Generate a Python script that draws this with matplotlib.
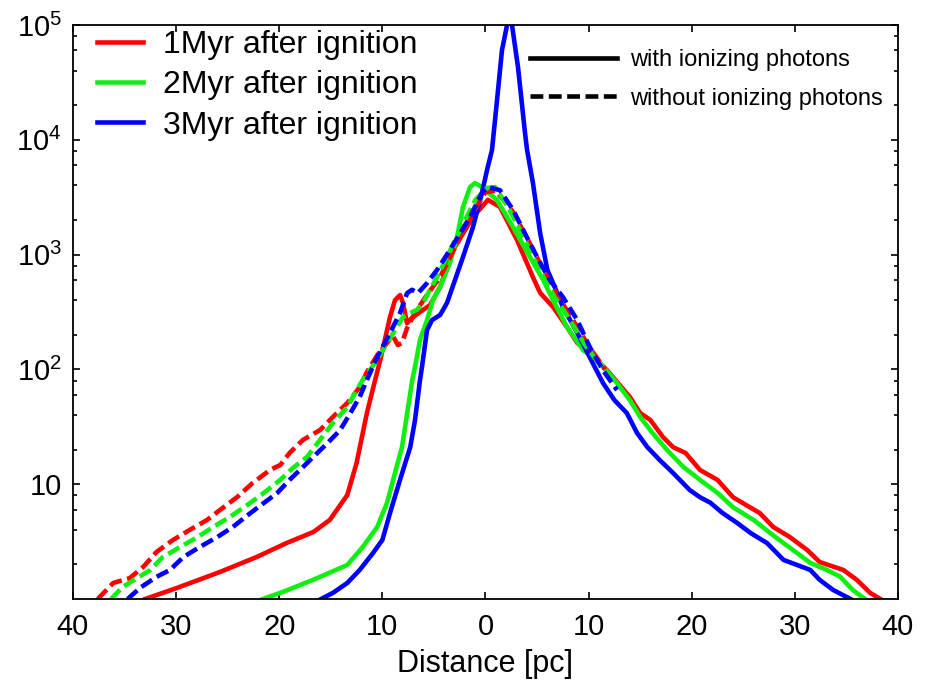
import matplotlib
matplotlib.use("Agg")
import matplotlib.pyplot as plt
from matplotlib.ticker import FixedLocator, FixedFormatter, LogLocator, NullFormatter
from matplotlib.lines import Line2D

plt.rcParams["font.family"] = ["Liberation Sans", "DejaVu Sans"]
plt.rcParams["mathtext.fontset"] = "custom"
plt.rcParams["mathtext.rm"] = "Liberation Sans"

# 1 Myr, with ionizing photons
x_1myr = [-33.0, -29.9, -25.75, -22.2, -19.3, -16.7, -15.1, -13.4, -12.5, -11.5, -10.7,
          -10.2, -9.26, -8.78, -8.29, -8.0, -7.61, -7.13, -6.35, -5.38, -4.4, -3.15,
          -1.2, 0.24, 1.4, 3.06, 4.6, 5.3, 6.55, 7.9, 8.9, 10.1, 11.8, 14.0, 15.0,
          15.98, 17.2, 18.2, 19.4, 20.8, 22.5, 24.0, 26.6, 27.9, 29.5, 31.2, 32.4,
          34.7, 36.0, 37.3, 38.3]
y_1myr = [1.0, 1.25, 1.72, 2.32, 3.07, 3.83, 4.88, 8.05, 15.3, 41.7, 81,
          121, 286, 400, 444, 380, 253, 281, 316, 363, 523, 1097,
          2130, 3000, 2600, 1340, 636, 464, 350, 234, 170, 139, 98, 57.5, 41.7,
          36.3, 25.8, 21, 18.7, 13.3, 10.9, 7.7, 5.6, 4.24, 3.47, 2.67, 2.1,
          1.79, 1.47, 1.13, 1.0]

# 2 Myr, with ionizing photons
x_2myr = [-21.6, -19.9, -16.7, -13.4, -11.9, -10.5, -9.55, -8.78, -8.1, -7.5, -7.1,
          -6.84, -6.35, -5.67, -5.09, -4.4, -3.44, -2.76, -2.18, -1.5, -1.02, -0.34,
          1.1, 2.67, 4.3, 5.6, 6.55, 7.9, 9.45, 11.1, 12.75, 14.0, 15.0, 16.2, 17.6,
          19.2, 20.8, 22.5, 24.0, 26.0, 27.6, 28.9, 30.2, 31.5, 33.1, 34.4, 35.6, 36.8]
y_2myr = [1.0, 1.13, 1.47, 1.98, 2.84, 4.24, 6.86, 12.5, 21, 47, 81,
          105, 181, 269, 402, 523, 848, 1420, 2600, 3870, 4200, 3870,
          3000, 1740, 955, 600, 402, 234, 148, 114, 76, 54, 38.5, 27.9, 19.9,
          14.1, 10.9, 8.4, 6.3, 4.88, 3.76, 3.07, 2.52, 2.06, 1.79, 1.56, 1.2, 1.0]

# 3 Myr, with ionizing photons
x_3myr = [-15.95, -14.8, -13.4, -12.2, -10.9, -10.0, -9.26, -8.29, -7.3, -6.84, -6.35,
          -6.16, -5.67, -5.19, -4.4, -3.73, -2.96, -2.18, -1.21, -0.34, 0.15, 0.63,
          1.12, 1.6, 2.23, 2.57, 3.15, 3.83, 4.03, 4.6, 5.3, 6.0, 6.55, 7.5, 8.9,
          10.1, 11.4, 12.5, 13.7, 14.7, 15.7, 16.9, 18.2, 19.8, 20.8, 21.8, 23.0,
          24.4, 25.7, 27.3, 28.9, 30.2, 31.5, 32.4, 33.7, 35.4]
y_3myr = [1.0, 1.13, 1.38, 1.79, 2.52, 3.27, 5.6, 10.9, 21, 36, 81,
          105, 220, 269, 298, 380, 600, 955, 1740, 3460, 5460, 8160,
          22200, 60600, 115000, 100000, 43000, 11500, 8160, 4200, 1540, 735, 565, 350, 208,
          128, 76, 54, 41.7, 27.9, 21, 16.2, 12.5, 8.9, 7.7, 6.9, 5.6,
          4.6, 3.76, 3.07, 2.19, 1.98, 1.79, 1.47, 1.2, 1.0]

# without ionizing photons
x_1myr_noion = [-37.6, -36.1, -34.5, -33.2, -31.9, -30.3, -28.7, -27.0, -25.75, -24.1,
                -22.6, -20.9, -19.9, -19.0, -17.7, -16.05, -14.8, -13.4, -12.2, -11.5,
                -10.5, -9.55, -8.97, -8.5, -8.1, -7.6, -6.84, -5.87, -4.4, -2.96, -1.5,
                0.0, 1.0, 2.67, 4.3, 5.8, 7.2, 8.7, 10.1, 11.6]
y_1myr_noion = [1.0, 1.38, 1.52, 1.9, 2.57, 3.27, 3.99, 4.88, 5.96, 7.7,
                10.2, 13.3, 14.7, 18.7, 24.3, 29.6, 38.5, 51, 70, 95,
                133, 170, 195, 163, 170, 230, 310, 420, 640, 1150, 2100,
                3500, 3600, 2350, 1250, 680, 410, 250, 155, 100]

x_2myr_noion = [-36.3, -35.2, -33.8, -32.5, -31.3, -29.6, -27.9, -26.4, -24.8, -23.1,
                -21.5, -19.9, -18.7, -17.3, -16.05, -14.8, -13.4, -12.5, -11.9, -10.5,
                -9.55, -8.58, -8.0, -7.3, -6.64, -6.06, -5.38, -4.7, -3.73, -2.47, -1.0,
                0.15, 0.92, 2.08, 3.35, 4.6, 5.6, 6.7, 8.2, 9.65, 11.1]
y_2myr_noion = [1.0, 1.27, 1.52, 1.79, 2.32, 2.84, 3.47, 4.24, 5.18, 6.59,
                8.38, 10.9, 13.8, 17.3, 24.3, 34.1, 47, 66, 81, 121,
                170, 234, 286, 310, 330, 380, 494, 636, 955, 1630, 2990,
                3800, 3870, 2700, 1630, 955, 636, 427, 269, 163, 109]

x_3myr_noion = [-34.7, -33.5, -31.9, -30.6, -29.3, -27.7, -26.0, -24.5, -22.8, -21.5,
                -20.2, -19.0, -17.7, -16.7, -15.3, -14.1, -13.1, -12.2, -11.5, -10.5,
                -9.26, -8.29, -7.6, -7.13, -6.55, -5.67, -4.7, -3.44, -1.5, -0.34, 0.24,
                1.4, 2.67, 4.0, 5.3, 6.25, 7.5, 8.9, 10.1, 11.4, 12.75]
y_3myr_noion = [1.0, 1.25, 1.56, 1.79, 2.32, 2.84, 3.47, 4.24, 5.6, 6.86,
                8.38, 10.9, 14.1, 17.3, 22.9, 29.6, 41.7, 57.5, 81, 128,
                208, 310, 462, 494, 462, 565, 735, 1100, 2130, 3460, 3870,
                3640, 2450, 1420, 848, 600, 427, 269, 157, 98, 66]

xticks = [-40, -30, -20, -10, 0, 10, 20, 30, 40]
xtick_labels = ["40", "30", "20", "10", "0", "10", "20", "30", "40"]
yticks = [10, 100, 1000, 10000, 100000]
ytick_labels = ["10", "10$^2$", "10$^3$", "10$^4$", "10$^5$"]

red, green, blue = "#ff0000", "#11ee11", "#0000ff"
lw = 3.3
dash = (0, (2.8, 1.2))

fig = plt.figure(figsize=(9.28, 6.89), dpi=100)
ax = fig.add_axes([73 / 928, 90 / 689, 825 / 928, 574 / 689])

ax.plot(x_1myr, y_1myr, color=red, lw=lw)
ax.plot(x_2myr, y_2myr, color=green, lw=lw)
ax.plot(x_3myr, y_3myr, color=blue, lw=lw)
ax.plot(x_1myr_noion, y_1myr_noion, color=red, lw=lw, linestyle=dash)
ax.plot(x_2myr_noion, y_2myr_noion, color=green, lw=lw, linestyle=dash)
ax.plot(x_3myr_noion, y_3myr_noion, color=blue, lw=lw, linestyle=dash)

ax.set_yscale("log")
ax.set_xlim(-40, 40)
ax.set_ylim(1, 1e5)

ax.xaxis.set_major_locator(FixedLocator(xticks))
ax.xaxis.set_major_formatter(FixedFormatter(xtick_labels))
ax.yaxis.set_major_locator(FixedLocator(yticks))
ax.yaxis.set_major_formatter(FixedFormatter(ytick_labels))
ax.yaxis.set_minor_locator(LogLocator(base=10, subs=(2, 4, 6, 8)))
ax.yaxis.set_minor_formatter(NullFormatter())

ax.tick_params(which="both", direction="in", top=True, right=True, width=1.2)
ax.tick_params(which="major", length=5, labelsize=21)
ax.tick_params(which="minor", length=3)
ax.tick_params(axis="x", pad=10)
ax.tick_params(axis="y", pad=8)
for s in ax.spines.values():
    s.set_linewidth(1.3)

ax.set_xlabel("Distance [pc]", fontsize=22, labelpad=6)

h_time = [Line2D([], [], color=c, lw=lw) for c in (red, green, blue)]
leg1 = ax.legend(h_time, ["1Myr after ignition", "2Myr after ignition", "3Myr after ignition"],
                 loc="upper left", bbox_to_anchor=(0.029, 0.991), frameon=False,
                 fontsize=23, handlelength=1.44, handletextpad=0.62,
                 labelspacing=0.32, borderpad=0, borderaxespad=0)
ax.add_artist(leg1)

h_ion = [Line2D([], [], color="black", lw=lw),
         Line2D([], [], color="black", lw=lw, linestyle=dash)]
ax.legend(h_ion, ["with ionizing photons", "without ionizing photons"],
          loc="upper left", bbox_to_anchor=(0.554, 0.958), frameon=False,
          fontsize=17, handlelength=3.7, handletextpad=0.55,
          labelspacing=0.7, borderpad=0, borderaxespad=0)

fig.savefig("out.png", dpi=100)
